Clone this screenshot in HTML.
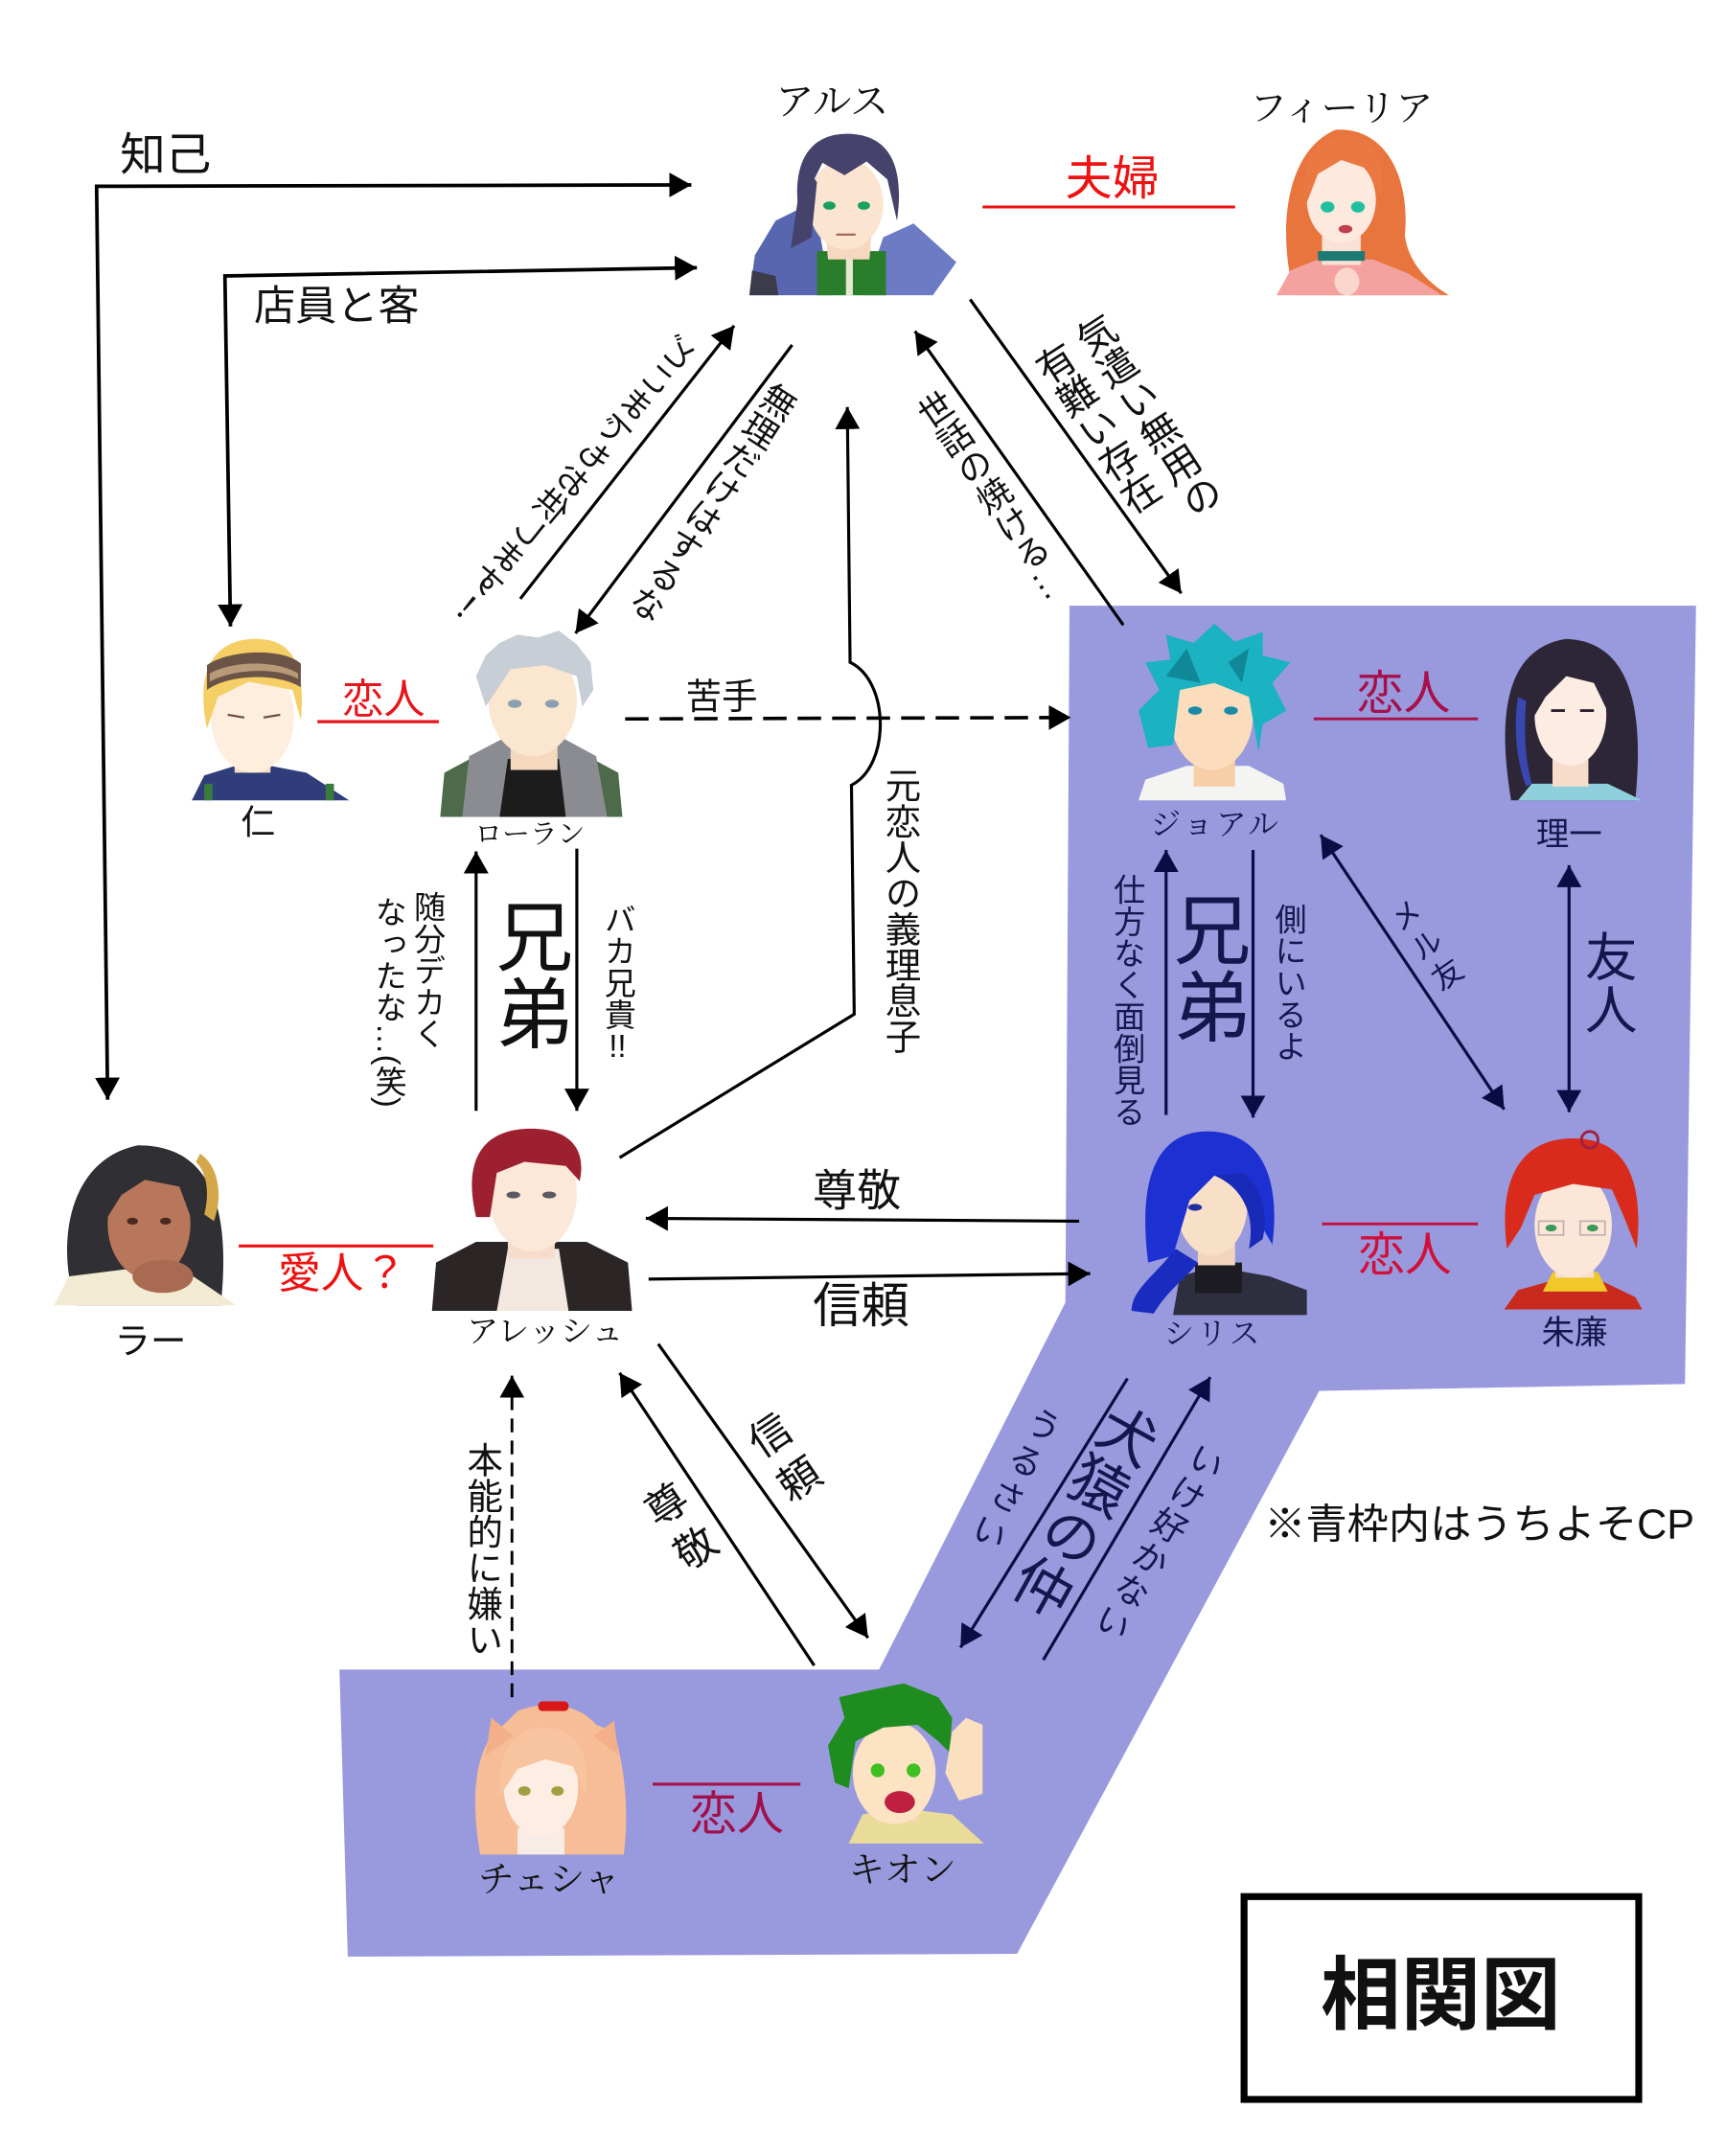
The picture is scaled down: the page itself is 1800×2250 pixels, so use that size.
<!DOCTYPE html>
<html><head><meta charset="utf-8">
<style>
html,body{margin:0;padding:0;background:#fff;}
body{width:1800px;height:2250px;overflow:hidden;position:relative;}
#c{position:absolute;left:0;top:0;width:1250px;height:1562.5px;transform:scale(1.44);transform-origin:0 0;}
.t{position:absolute;transform:translate(-50%,-50%);line-height:1;white-space:nowrap;color:#111;font-family:"Liberation Sans","Noto Sans CJK JP",sans-serif;}
.s{font-family:"Liberation Serif","Noto Serif CJK SC",serif;}
.v{writing-mode:vertical-rl;}
.n{color:#16164e;}
.tcy{text-combine-upright:all;}
</style></head>
<body>
<div id="c">
<svg width="1250" height="1562.5" viewBox="0 0 1250 1562.5" style="position:absolute;left:0;top:0">
<defs>
<marker id="ah" markerUnits="userSpaceOnUse" markerWidth="18" markerHeight="20" refX="16" refY="9" orient="auto-start-reverse"><path d="M0,0 L16,9 L0,18 Z" fill="#000"/></marker>
<marker id="an" markerUnits="userSpaceOnUse" markerWidth="18" markerHeight="20" refX="16" refY="9" orient="auto-start-reverse"><path d="M0,0 L16,9 L0,18 Z" fill="#0c0c44"/></marker>
</defs>

<!-- blue region -->
<polygon points="775,439 1229,439 1221,1003 956,1008 737,1416 252,1418 246,1210 637,1210 772,944" fill="#999ade"/>

<!-- L-shaped connectors -->
<path d="M78,797 L70,135 L501,134" fill="none" stroke="#000" stroke-width="2.6" marker-start="url(#ah)" marker-end="url(#ah)"/>
<path d="M167,454 L163,200 L505,194" fill="none" stroke="#000" stroke-width="2.6" marker-start="url(#ah)" marker-end="url(#ah)"/>

<!-- diagonal arrows top -->
<line x1="377" y1="434" x2="532" y2="236" stroke="#000" stroke-width="2.2" marker-end="url(#ah)"/>
<line x1="574" y1="250" x2="417" y2="459" stroke="#000" stroke-width="2.2" marker-end="url(#ah)"/>
<line x1="814" y1="453" x2="663" y2="240" stroke="#000" stroke-width="2.2" marker-end="url(#ah)"/>
<line x1="703" y1="217" x2="856" y2="430" stroke="#000" stroke-width="2.2" marker-end="url(#ah)"/>

<!-- ex-lover connector with bump -->
<path d="M449,839 L619,735 L617,569 C645,555 645,494 616,480 L614,295" fill="none" stroke="#000" stroke-width="2.2" marker-end="url(#ah)"/>

<!-- 苦手 dashed -->
<line x1="453" y1="521" x2="776" y2="520" stroke="#000" stroke-width="2.5" stroke-dasharray="17 8" marker-end="url(#ah)"/>

<!-- Loran / Alesh brothers -->
<line x1="345" y1="805" x2="345" y2="617" stroke="#000" stroke-width="2.2" marker-end="url(#ah)"/>
<line x1="418" y1="615" x2="418" y2="805" stroke="#000" stroke-width="2.2" marker-end="url(#ah)"/>

<!-- Alesh <-> Siris -->
<line x1="782" y1="885" x2="468" y2="883" stroke="#000" stroke-width="2.2" marker-end="url(#ah)"/>
<line x1="470" y1="927" x2="790" y2="923" stroke="#000" stroke-width="2.2" marker-end="url(#ah)"/>

<!-- Alesh <-> Kion -->
<line x1="477" y1="974" x2="629" y2="1187" stroke="#000" stroke-width="2.2" marker-end="url(#ah)"/>
<line x1="590" y1="1207" x2="449" y2="995" stroke="#000" stroke-width="2.2" marker-end="url(#ah)"/>

<!-- Chesha -> Alesh dashed -->
<line x1="371" y1="1230" x2="371" y2="997" stroke="#000" stroke-width="2" stroke-dasharray="10 6" marker-end="url(#ah)"/>

<!-- Siris <-> Kion -->
<line x1="817" y1="999" x2="696" y2="1194" stroke="#0c0c44" stroke-width="2.2" marker-end="url(#an)"/>
<line x1="756" y1="1203" x2="877" y2="998" stroke="#0c0c44" stroke-width="2.2" marker-end="url(#an)"/>

<!-- Joal / Siris brothers -->
<line x1="845" y1="808" x2="845" y2="616" stroke="#0c0c44" stroke-width="2.2" marker-end="url(#an)"/>
<line x1="908" y1="616" x2="908" y2="810" stroke="#0c0c44" stroke-width="2.2" marker-end="url(#an)"/>
<!-- mail friend -->
<line x1="957" y1="605" x2="1090" y2="804" stroke="#0c0c44" stroke-width="2.2" marker-start="url(#an)" marker-end="url(#an)"/>
<!-- friends -->
<line x1="1137" y1="627" x2="1137" y2="806" stroke="#0c0c44" stroke-width="2.2" marker-start="url(#an)" marker-end="url(#an)"/>

<!-- red relation lines -->
<line x1="712" y1="150" x2="895" y2="150" stroke="#ee1111" stroke-width="2"/>
<line x1="230" y1="523" x2="318" y2="523" stroke="#e8141c" stroke-width="2.2"/>
<line x1="173" y1="903" x2="314" y2="903" stroke="#ee1111" stroke-width="2.2"/>
<line x1="952" y1="521" x2="1071" y2="521" stroke="#a8104a" stroke-width="2"/>
<line x1="958" y1="887" x2="1071" y2="887" stroke="#c81040" stroke-width="2"/>
<line x1="473" y1="1293" x2="580" y2="1293" stroke="#a8104a" stroke-width="2.2"/>

<!-- 相関図 box -->
<rect x="901.5" y="1374.5" width="286" height="147" fill="#fff" stroke="#000" stroke-width="5"/>

<!-- ===== Portraits ===== -->
<!-- アルス -->
<g>
<path d="M543,214 L547,185 L562,160 L590,146 L602,214 Z" fill="#5866b0"/>
<path d="M626,214 L640,172 L662,162 L693,190 L676,214 Z" fill="#6d7bc4"/>
<path d="M543,214 L545,196 L562,200 L564,214Z" fill="#3b3b4a"/>
<rect x="592" y="182" width="50" height="32" fill="#2a7d2a"/>
<rect x="613" y="182" width="5" height="32" fill="#e8e8d0"/>
<path d="M598,165 L632,165 L630,188 L600,188Z" fill="#f6d7bf"/>
<ellipse cx="613" cy="148" rx="27" ry="33" fill="#fbe4d0"/>
<path d="M580,162 C572,120 585,97 614,97 C643,97 656,118 650,160 L643,130 L628,117 L612,127 L596,118 L587,136 Z" fill="#45436c"/>
<path d="M582,118 L573,180 L588,172 L592,132Z" fill="#45436c"/>
<ellipse cx="601" cy="149" rx="4.5" ry="3" fill="#1aa060"/>
<ellipse cx="626" cy="149" rx="4.5" ry="3" fill="#1aa060"/>
<path d="M606,170 L620,170" stroke="#a06050" stroke-width="1.5"/>
</g>

<!-- フィーリア -->
<g>
<path d="M938,214 C926,170 930,110 968,94 C1005,92 1022,130 1018,170 C1020,190 1035,205 1050,214 Z" fill="#e8743e"/>
<path d="M925,214 L935,196 L955,188 L995,188 L1020,198 L1045,214Z" fill="#f4a2a0"/>
<rect x="958" y="170" width="28" height="22" fill="#fbe2d6"/>
<rect x="955" y="182" width="34" height="7" fill="#1e7a74"/>
<ellipse cx="972" cy="145" rx="25" ry="31" fill="#fde9de"/>
<path d="M945,152 C942,110 958,98 975,98 C995,98 1004,115 1001,142 L990,122 L972,116 L955,126 Z" fill="#ea7842"/>
<ellipse cx="962" cy="150" rx="5" ry="4" fill="#1fc0a0"/>
<ellipse cx="984" cy="150" rx="5" ry="4" fill="#1fc0a0"/>
<ellipse cx="975" cy="166" rx="5" ry="3" fill="#c04050"/>
<ellipse cx="976" cy="204" rx="9" ry="10" fill="#fbd6cc"/>
</g>

<!-- 仁 -->
<g>
<path d="M139,580 L148,562 L180,552 L222,560 L253,580Z" fill="#2f3d7a"/>
<rect x="148" y="568" width="6" height="12" fill="#3a7a3a"/>
<rect x="236" y="568" width="6" height="12" fill="#3a7a3a"/>
<rect x="170" y="540" width="26" height="20" fill="#f7dcc6"/>
<ellipse cx="183" cy="520" rx="30" ry="40" fill="#fdeedd"/>
<path d="M150,528 C140,480 160,463 185,463 C210,463 222,478 218,522 L212,500 L180,494 L158,505Z" fill="#f5cf66"/>
<path d="M150,482 C165,471 205,469 218,481 L218,498 C200,487 165,489 150,500Z" fill="#6b5446"/>
<path d="M152,488 C168,479 200,478 216,488 L216,492 C200,483 168,485 152,494Z" fill="#b89a78"/>
<path d="M165,518 L177,520 M191,520 L203,518" stroke="#6a4a3a" stroke-width="1.5"/>
</g>

<!-- ローラン -->
<g>
<path d="M319,592 L322,560 L350,545 L420,545 L448,560 L451,592Z" fill="#4d6b4a"/>
<path d="M335,592 L340,548 L365,535 L408,535 L432,548 L440,592Z" fill="#8b8b92"/>
<path d="M362,592 L368,550 L405,550 L410,592Z" fill="#1c1c1c"/>
<rect x="370" y="528" width="34" height="30" fill="#f5d9bf"/>
<ellipse cx="386" cy="508" rx="32" ry="40" fill="#fbe6cf"/>
<path d="M352,512 L345,490 L352,475 L362,466 L375,460 L390,462 L405,457 L418,467 L428,480 L430,500 L422,512 L418,490 L395,482 L370,485 L360,500Z" fill="#c8ced6"/>
<ellipse cx="373" cy="510" rx="5" ry="3" fill="#8aa0b0"/>
<ellipse cx="400" cy="510" rx="5" ry="3" fill="#8aa0b0"/>
</g>

<!-- ジョアル -->
<g>
<path d="M825,580 L830,565 L860,555 L905,555 L930,568 L932,580Z" fill="#f4f4f2"/>
<rect x="865" y="545" width="30" height="25" fill="#f6cfa8"/>
<ellipse cx="878" cy="518" rx="30" ry="40" fill="#fbdcbc"/>
<path d="M832,542 L825,515 L840,500 L830,480 L848,478 L845,460 L865,466 L880,452 L895,465 L915,458 L915,475 L935,480 L922,495 L932,515 L915,525 L912,545 L905,505 L880,495 L855,500 L850,540 Z" fill="#1bb2c2"/>
<path d="M845,490 L860,470 L870,495 Z M890,480 L905,470 L900,495Z" fill="#108898"/>
<ellipse cx="866" cy="515" rx="5" ry="3" fill="#1a8aa8"/>
<ellipse cx="892" cy="515" rx="5" ry="3" fill="#1a8aa8"/>
</g>

<!-- 理一 -->
<g>
<path d="M1095,580 C1085,520 1090,470 1135,463 C1180,465 1192,510 1185,580 Z" fill="#2c2637"/>
<path d="M1100,580 L1110,568 L1165,568 L1190,580Z" fill="#8fd0dc"/>
<rect x="1125" y="545" width="26" height="25" fill="#f7dccc"/>
<ellipse cx="1138" cy="518" rx="26" ry="37" fill="#fcece2"/>
<path d="M1110,522 C1105,480 1125,468 1140,468 C1165,470 1172,490 1168,522 L1155,495 L1135,490 L1120,505Z" fill="#2c2637"/>
<path d="M1100,505 C1096,530 1100,555 1106,570 L1110,568 C1105,550 1104,528 1106,508Z" fill="#3848b0"/>
<path d="M1124,515 L1134,515 M1145,515 L1155,515" stroke="#2a2030" stroke-width="2"/>
</g>

<!-- ラー -->
<g>
<path d="M55,946 C40,900 50,840 100,830 C150,830 168,870 160,946Z" fill="#303034"/>
<path d="M39,946 L50,925 L90,920 L140,925 L171,946Z" fill="#f2ead2"/>
<ellipse cx="108" cy="887" rx="30" ry="40" fill="#b8775a"/>
<path d="M78,882 C75,848 95,838 115,840 C140,842 148,860 140,887 L130,860 L105,855 L88,866Z" fill="#303034"/>
<path d="M145,836 C158,845 162,865 155,885 L148,880 C152,865 150,850 142,842Z" fill="#d4a848"/>
<ellipse cx="118" cy="925" rx="22" ry="12" fill="#a86a50"/>
<ellipse cx="96" cy="885" rx="4" ry="2.5" fill="#4a2a20"/>
<ellipse cx="120" cy="885" rx="4" ry="2.5" fill="#4a2a20"/>
</g>

<!-- アレッシュ -->
<g>
<path d="M313,950 L316,915 L345,900 L425,900 L455,915 L458,950Z" fill="#2b2526"/>
<path d="M360,950 L368,905 L405,905 L412,950Z" fill="#f3e8e0"/>
<rect x="368" y="880" width="34" height="32" fill="#f6dccb"/>
<ellipse cx="386" cy="865" rx="32" ry="42" fill="#fbe8d8"/>
<path d="M345,882 C335,840 350,818 385,818 C415,818 425,835 420,856 L410,845 L380,842 L360,850 L355,882 Z" fill="#9c2030"/>
<ellipse cx="372" cy="866" rx="5" ry="2.5" fill="#5a5a60"/>
<ellipse cx="398" cy="866" rx="5" ry="2.5" fill="#5a5a60"/>
</g>

<!-- シリス -->
<g>
<path d="M850,953 L855,925 L880,918 L920,925 L947,935 L947,953Z" fill="#2d2e3e"/>
<rect x="866" y="915" width="34" height="22" fill="#1c1c22"/>
<rect x="868" y="895" width="27" height="22" fill="#f2d5bd"/>
<ellipse cx="878" cy="872" rx="26" ry="38" fill="#f8e0c8"/>
<path d="M832,915 C825,860 835,820 875,820 C915,820 928,855 922,902 L912,885 L905,862 L880,852 L862,870 L850,910Z" fill="#1d30d2"/>
<path d="M880,852 C900,860 910,880 905,905 L915,898 C920,875 912,858 900,850Z" fill="#1a2ab8"/>
<path d="M852,905 C836,925 820,935 820,950 L836,952 C846,935 860,926 868,915Z" fill="#1a2cc0"/>
<ellipse cx="866" cy="875" rx="5" ry="2.5" fill="#2030a0"/>
</g>

<!-- 朱廉 -->
<g>
<path d="M1090,949 L1100,935 L1125,928 L1160,928 L1185,940 L1190,949Z" fill="#c92a1e"/>
<path d="M1118,936 L1125,922 L1158,922 L1165,936 Z" fill="#f0c828"/>
<rect x="1127" y="908" width="28" height="18" fill="#f6dccc"/>
<ellipse cx="1140" cy="888" rx="28" ry="38" fill="#fbe6d8"/>
<path d="M1092,905 C1085,850 1105,825 1140,825 C1175,825 1192,850 1186,905 L1176,880 L1168,862 L1140,858 L1112,866 L1102,890Z" fill="#d92b1b"/>
<circle cx="1152" cy="826" r="6" fill="none" stroke="#a02040" stroke-width="2"/>
<rect x="1115" y="885" width="18" height="10" fill="none" stroke="#c0b0b0" stroke-width="1.2"/>
<rect x="1145" y="885" width="18" height="10" fill="none" stroke="#c0b0b0" stroke-width="1.2"/>
<ellipse cx="1124" cy="890" rx="4" ry="2.5" fill="#3a9a5a"/>
<ellipse cx="1154" cy="890" rx="4" ry="2.5" fill="#3a9a5a"/>
</g>

<!-- チェシャ -->
<g>
<path d="M348,1344 C340,1300 345,1262 365,1250 L375,1240 C395,1232 420,1235 432,1250 L445,1255 C455,1290 455,1320 452,1344Z" fill="#f6bd96"/>
<path d="M352,1272 L356,1245 L372,1258Z M448,1272 L445,1247 L430,1258Z" fill="#f3b088"/>
<rect x="375" y="1325" width="34" height="19" fill="#f7ece6"/>
<ellipse cx="392" cy="1295" rx="27" ry="36" fill="#fdede2"/>
<path d="M362,1302 C360,1262 378,1252 395,1252 C415,1252 428,1265 425,1302 L415,1280 L395,1275 L375,1282 Z" fill="#f8c4a0"/>
<rect x="390" y="1233" width="22" height="7" rx="3" fill="#d81818"/>
<ellipse cx="380" cy="1298" rx="4.5" ry="3.5" fill="#a0a040"/>
<ellipse cx="404" cy="1298" rx="4.5" ry="3.5" fill="#a0a040"/>
</g>

<!-- キオン -->
<g>
<path d="M615,1336 L625,1315 L650,1310 L690,1315 L713,1336Z" fill="#e9dc98"/>
<rect x="635" y="1300" width="30" height="20" fill="#f8d8b8"/>
<ellipse cx="648" cy="1285" rx="30" ry="37" fill="#fce3c4"/>
<path d="M605,1292 L600,1265 L612,1245 L608,1230 L630,1225 L655,1220 L680,1230 L690,1245 L688,1270 L680,1262 L665,1250 L640,1252 L620,1262 L615,1296 Z" fill="#1f8c20"/>
<path d="M690,1255 L700,1245 L712,1250 L712,1300 L695,1305 L685,1285Z" fill="#fbe0c0"/>
<ellipse cx="652" cy="1306" rx="11" ry="8" fill="#c02040"/>
<ellipse cx="636" cy="1283" rx="5" ry="5" fill="#40c020"/>
<ellipse cx="662" cy="1283" rx="5" ry="5" fill="#40c020"/>
</g>
</svg>

<!-- ===== Horizontal text ===== -->
<div class="t" style="left:120px;top:112px;font-size:33px">知己</div>
<div class="t" style="left:244px;top:223px;font-size:30px">店員と客</div>
<div class="t s" style="left:603px;top:75px;font-size:28px">アルス</div>
<div class="t s" style="left:972px;top:79px;font-size:27px">フィーリア</div>
<div class="t" style="left:806px;top:130px;font-size:34px;color:#ee1111">夫婦</div>
<div class="t" style="left:187px;top:597px;font-size:25px">仁</div>
<div class="t s" style="left:384px;top:605px;font-size:20px">ローラン</div>
<div class="t" style="left:278px;top:508px;font-size:30px;color:#e8141c">恋人</div>
<div class="t" style="left:523px;top:505px;font-size:26px">苦手</div>
<div class="t s n" style="left:881px;top:598px;font-size:22px;letter-spacing:2px">ジョアル</div>
<div class="t n" style="left:1137px;top:606px;font-size:24px">理一</div>
<div class="t" style="left:1017px;top:503px;font-size:34px;color:#a8104a">恋人</div>
<div class="t" style="left:109px;top:972px;font-size:26px">ラー</div>
<div class="t" style="left:248px;top:923px;font-size:31px;color:#ee1111">愛人？</div>
<div class="t s" style="left:395px;top:965px;font-size:23px">アレッシュ</div>
<div class="t" style="left:621px;top:863px;font-size:32px">尊敬</div>
<div class="t" style="left:624px;top:947px;font-size:35px">信頼</div>
<div class="t s n" style="left:879px;top:967px;font-size:22px;letter-spacing:2px">シリス</div>
<div class="t n" style="left:1141px;top:967px;font-size:24px">朱廉</div>
<div class="t" style="left:1018px;top:910px;font-size:34px;color:#d0103a">恋人</div>
<div class="t s" style="left:398px;top:1363px;font-size:26px">チェシャ</div>
<div class="t s" style="left:654px;top:1356px;font-size:26px">キオン</div>
<div class="t" style="left:534px;top:1315px;font-size:34px;color:#a0104a">恋人</div>
<div class="t" style="left:1072px;top:1106px;font-size:30px">※青枠内はうちよそCP</div>
<div class="t" style="left:1044px;top:1447px;font-size:58px;font-weight:bold">相関図</div>

<!-- ===== Vertical / rotated text ===== -->
<div class="t v" style="left:418px;top:350px;font-size:24px;transform:translate(-50%,-50%) rotate(40deg) scaleX(-1)">どこまでもお供します！</div>
<div class="t v" style="left:515px;top:363px;font-size:25px;transform:translate(-50%,-50%) rotate(33deg)">無理だけはするな</div>
<div class="t v" style="left:718px;top:360px;font-size:25px;transform:translate(-50%,-50%) rotate(-34deg)">世話の焼ける…</div>
<div class="t v" style="left:831px;top:302px;font-size:28px;transform:translate(-50%,-50%) rotate(-33deg)">気遣い無用の</div>
<div class="t v" style="left:794px;top:311px;font-size:28px;transform:translate(-50%,-50%) rotate(-33deg)">有難い存在</div>
<div class="t v" style="left:653px;top:660px;font-size:26px">元恋人の義理息子</div>
<div class="t v" style="left:383px;top:706px;font-size:56px">兄弟</div>
<div class="t v" style="left:447px;top:712px;font-size:23px">バカ兄貴<span class="tcy">!!</span></div>
<div class="t v" style="left:309px;top:703px;font-size:23px">随分デカく</div>
<div class="t v" style="left:281px;top:726px;font-size:23px">なったな…(笑)</div>
<div class="t v n" style="left:874px;top:701px;font-size:56px">兄弟</div>
<div class="t v n" style="left:933px;top:712px;font-size:23px">側にいるよ</div>
<div class="t v n" style="left:816px;top:725px;font-size:23px">仕方なく面倒見る</div>
<div class="t v n" style="left:1033px;top:687px;font-size:22px;letter-spacing:4px;transform:translate(-50%,-50%) rotate(-35deg)">メル友</div>
<div class="t v n" style="left:1163px;top:712px;font-size:38px">友人</div>
<div class="t v" style="left:567px;top:1061px;font-size:30px;letter-spacing:8px;transform:translate(-50%,-50%) rotate(-34deg)">信頼</div>
<div class="t v" style="left:492px;top:1111px;font-size:30px;letter-spacing:8px;transform:translate(-50%,-50%) rotate(-34deg)">尊敬</div>
<div class="t v" style="left:350px;top:1123px;font-size:26px">本能的に嫌い</div>
<div class="t v n" style="left:784px;top:1093px;font-size:42px;transform:translate(-50%,-50%) rotate(29deg)">犬猿の仲</div>
<div class="t v n" style="left:734px;top:1072px;font-size:25px;letter-spacing:4px;transform:translate(-50%,-50%) rotate(27deg)">うるさい</div>
<div class="t v n" style="left:838px;top:1117px;font-size:25px;letter-spacing:2px;transform:translate(-50%,-50%) rotate(30deg)">いけ好かない</div>
</div>
</body></html>
